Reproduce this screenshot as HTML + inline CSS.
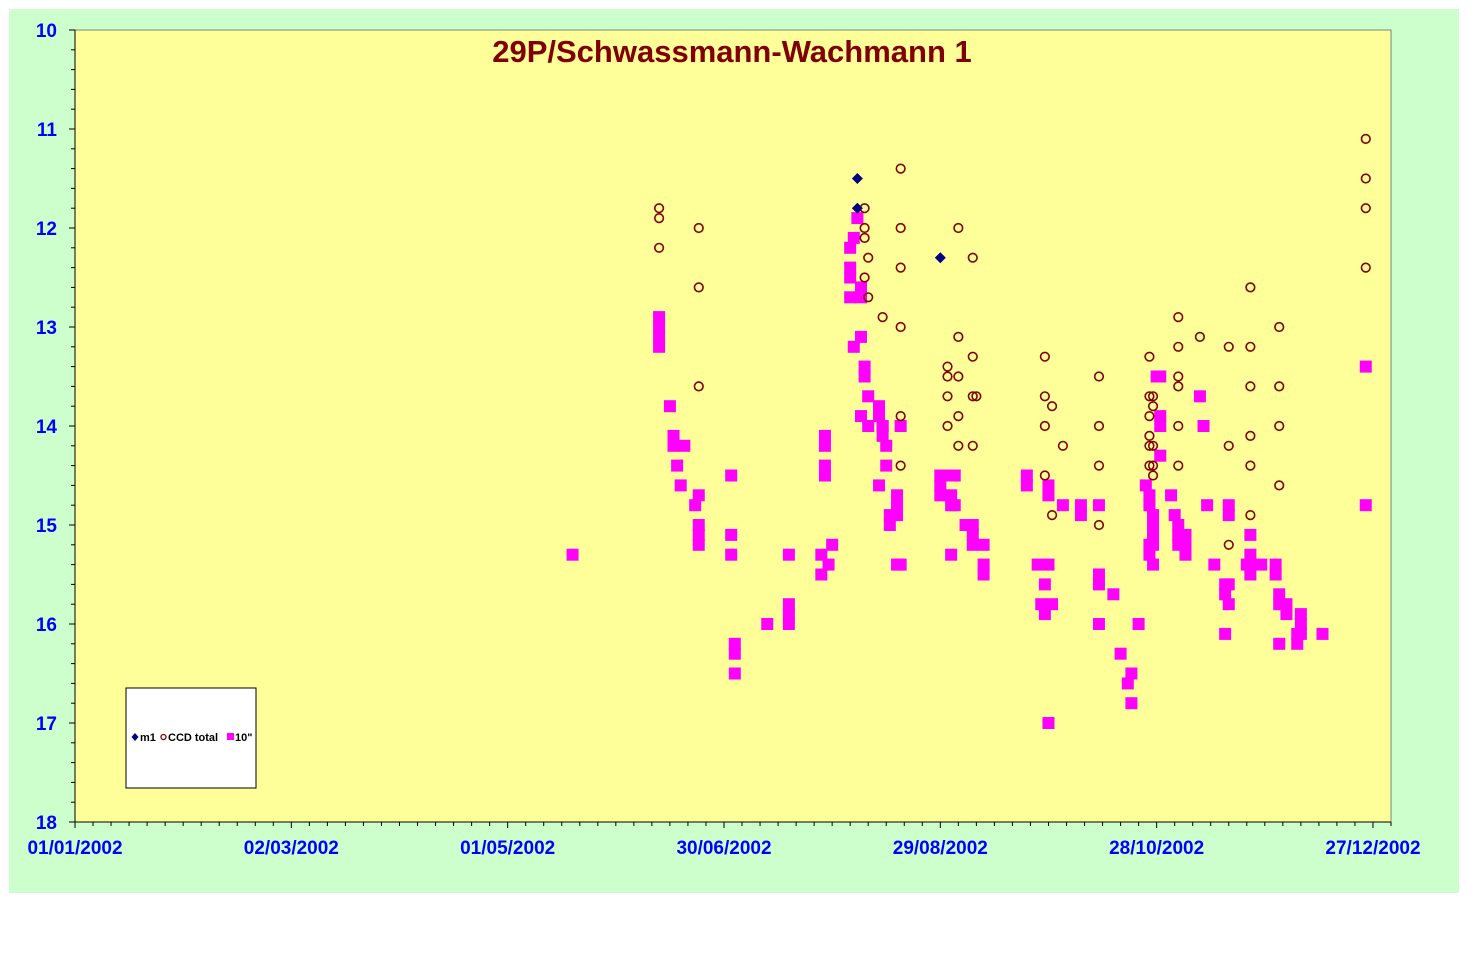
<!DOCTYPE html>
<html><head><meta charset="utf-8"><style>
html,body{margin:0;padding:0;background:#fff;}
svg{display:block;font-family:"Liberation Sans",sans-serif;}
</style></head><body>
<svg id="chart" width="1480" height="973" viewBox="0 0 1480 973">
<rect x="9" y="9" width="1450" height="884" fill="#CCFFCC"/>
<rect x="75" y="30" width="1316" height="792" fill="#FFFF99" stroke="#808080" stroke-width="1"/>
<text x="732" y="62" text-anchor="middle" font-size="31" font-weight="bold" fill="#800000">29P/Schwassmann-Wachmann  1</text>
<g id="axes"></g>
<g id="marks"></g>
<g>
<rect x="126" y="688" width="130" height="100" fill="#fff" stroke="#000" stroke-width="1"/>
<path d="M135 733 L138.5 737 L135 741 L131.5 737Z" fill="#000080"/>
<text x="140" y="741" font-size="11" font-weight="bold" fill="#000">m1</text>
<circle cx="163.5" cy="737" r="2.5" fill="none" stroke="#800000" stroke-width="1.3"/>
<text x="168" y="741" font-size="11" font-weight="bold" fill="#000">CCD total</text>
<rect x="227" y="733" width="7" height="7" fill="#FF00FF"/>
<text x="235" y="741" font-size="11" font-weight="bold" fill="#000">10"</text>
</g>
</svg>
<script>
const xTickDays=[0,60,120,180,240,300,360];
const xTickLabels=["01/01/2002","02/03/2002","01/05/2002","30/06/2002","29/08/2002","28/10/2002","27/12/2002"];
const yTicks=[10,11,12,13,14,15,16,17,18];
const m1Day=[217,217,240];
const m1Mag=[11.5,11.8,12.3];
const ccdDay=[162,162,162,173,173,173,219,219,219,220,220,219,224,229,229,229,229,229,229,242,242,242,242,245,245,245,245,245,249,249,249,249,250,269,269,269,269,271,271,274,284,284,284,284,298,298,298,298,298,298,299,299,299,299,299,306,306,306,306,306,306,312,320,320,320,326,326,326,326,326,326,334,334,334,334,358,358,358,358];
const ccdMag=[11.8,11.9,12.2,12.0,12.6,13.6,11.8,12.0,12.1,12.3,12.7,12.5,12.9,11.4,12.0,12.4,13.0,13.9,14.4,13.4,13.5,13.7,14.0,12.0,13.1,13.5,13.9,14.2,12.3,13.3,13.7,14.2,13.7,13.3,13.7,14.0,14.5,13.8,14.9,14.2,13.5,14.0,14.4,15.0,13.3,13.7,13.9,14.1,14.2,14.4,13.7,13.8,14.2,14.4,14.5,12.9,13.2,13.5,13.6,14.0,14.4,13.1,13.2,14.2,15.2,12.6,13.2,13.6,14.1,14.4,14.9,13.0,13.6,14.0,14.6,11.1,11.5,11.8,12.4];
const v10Day=[138,162,162,162,162,165,166,166,169,167,168,173,172,173,173,173,182,182,182,183,183,183,192,198,198,198,198,207,207,208,208,208,208,209,210,215,215,215,215,216,216,217,218,218,218,219,219,220,218,220,223,223,224,224,225,224,223,225,226,226,228,228,228,229,228,229,240,240,240,242,243,243,244,244,243,247,249,249,249,252,252,252,264,264,267,270,270,270,269,268,271,269,270,274,279,279,284,284,284,284,288,290,292,293,293,295,297,298,298,298,298,299,299,299,299,299,300,301,301,301,301,304,305,306,306,306,308,308,308,312,313,314,316,320,320,319,319,320,320,319,326,326,326,326,325,329,333,333,334,334,336,336,334,340,339,339,340,340,346,358,358];
const v10Mag=[15.3,12.9,13.0,13.1,13.2,13.8,14.1,14.2,14.2,14.4,14.6,14.7,14.8,15.0,15.1,15.2,14.5,15.1,15.3,16.2,16.3,16.5,16.0,15.3,15.8,15.9,16.0,15.3,15.5,14.1,14.2,14.4,14.5,15.4,15.2,12.2,12.4,12.5,12.7,12.1,13.2,11.9,12.6,12.7,13.1,13.4,13.5,13.7,13.9,14.0,13.8,13.9,14.0,14.1,14.2,14.0,14.6,14.4,14.9,15.0,14.7,14.8,14.9,14.0,15.4,15.4,14.5,14.6,14.7,14.5,14.7,14.8,14.5,14.8,15.3,15.0,15.0,15.1,15.2,15.2,15.4,15.5,14.5,14.6,15.4,15.4,14.6,14.7,15.6,15.8,15.8,15.9,17.0,14.8,14.8,14.9,14.8,15.5,15.6,16.0,15.7,16.3,16.6,16.5,16.8,16.0,14.6,14.7,14.8,15.2,15.3,14.9,15.0,15.1,15.2,15.4,13.5,13.5,13.9,14.0,14.3,14.7,14.9,15.0,15.1,15.2,15.1,15.2,15.3,13.7,14.0,14.8,15.4,14.8,14.9,15.6,15.7,15.6,15.8,16.1,15.1,15.3,15.4,15.5,15.4,15.4,15.4,15.5,15.7,15.8,15.8,15.9,16.2,15.9,16.1,16.2,16.0,16.1,16.1,13.4,14.8];

const NS="http://www.w3.org/2000/svg";
const X0=75,X1=1391,Y0=30,Y1=822,DMAX=365;
function xs(d){return X0+(d/DMAX)*(X1-X0);}
function ys(m){return Y0+(m-10)/8*(Y1-Y0);}
function mk(tag,attrs,parent){const e=document.createElementNS(NS,tag);for(const k in attrs)e.setAttribute(k,attrs[k]);parent.appendChild(e);return e;}
const axes=document.getElementById('axes'),marks=document.getElementById('marks');
const xa=mk('line',{x1:X0,y1:Y1,x2:X1,y2:Y1,stroke:'#000','stroke-width':1},axes);


const ya=mk('line',{x1:X0,y1:Y0,x2:X0,y2:Y1,stroke:'#000','stroke-width':1},axes);


for(let d=0;d<=DMAX;d+=5){const major=d%60===0;const t=mk('line',{x1:xs(d),y1:Y1,x2:xs(d),y2:Y1+(major?6:4),stroke:'#000','stroke-width':1},axes);

}
xTickDays.forEach((d,i)=>{const t=mk('text',{x:xs(d),y:854,'text-anchor':'middle','font-size':19,'font-weight':'bold',fill:'#0000FF'},axes);t.textContent=xTickLabels[i];

});
for(let m=10;m<=18.001;m+=0.2){const major=Math.abs(m-Math.round(m))<0.01;const t=mk('line',{x1:X0-(major?6:4),y1:ys(m),x2:X0,y2:ys(m),stroke:'#000','stroke-width':1},axes);

}
yTicks.forEach(m=>{const t=mk('text',{x:57,y:ys(m)+7,'text-anchor':'end','font-size':19,'font-weight':'bold',fill:'#0000FF'},axes);t.textContent=m;

});
v10Day.forEach((d,i)=>{const r=mk('rect',{x:xs(d)-6,y:ys(v10Mag[i])-6,width:12,height:12,fill:'#FF00FF'},marks);

});
ccdDay.forEach((d,i)=>{const c=mk('circle',{cx:xs(d),cy:ys(ccdMag[i]),r:4.3,fill:'none',stroke:'#800000','stroke-width':1.6},marks);

});
m1Day.forEach((d,i)=>{const x=xs(d),y=ys(m1Mag[i]);const p=mk('path',{d:`M${x} ${y-5.5} L${x+5.5} ${y} L${x} ${y+5.5} L${x-5.5} ${y}Z`,fill:'#000080'},marks);

});
</script>
</body></html>
